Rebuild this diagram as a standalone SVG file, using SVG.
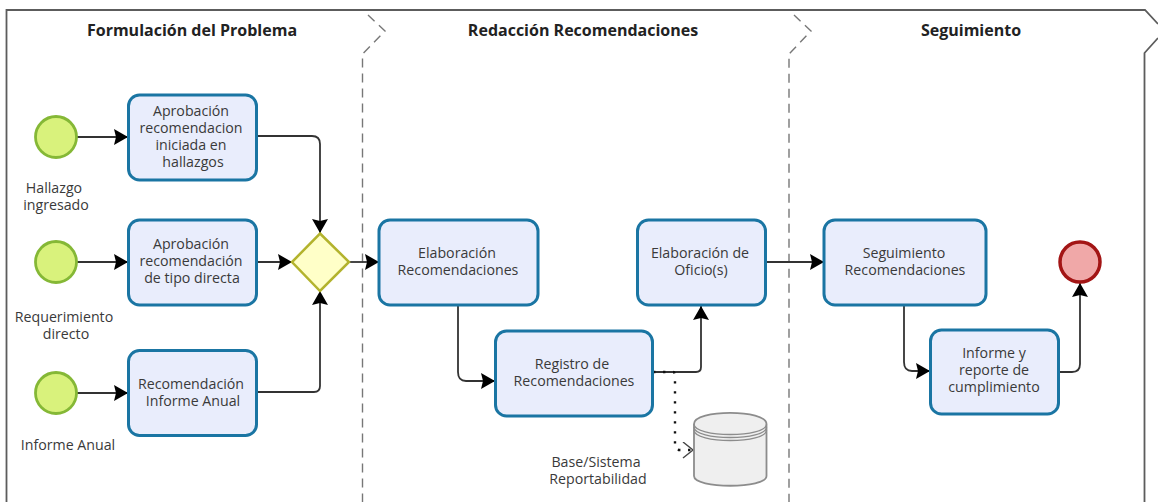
<svg xmlns="http://www.w3.org/2000/svg" width="1158" height="502" viewBox="0 0 1158 502">
<style>
text{font-family:"Open Sans","Noto Sans","Liberation Sans",sans-serif;font-size:14.200px;fill:#3a3a3a;text-anchor:middle}
.h{font-weight:700;font-size:16px;fill:#222}
.task{fill:#e9edfc;stroke:#1a75a3;stroke-width:3}
.start{fill:#d9f27c;stroke:#85b836;stroke-width:2.800}
.c{fill:none;stroke:#333;stroke-width:1.800}
.d{fill:none;stroke:#777;stroke-width:1.400;stroke-dasharray:9 6}
</style>
<defs>
<marker id="a" markerUnits="userSpaceOnUse" markerWidth="16" markerHeight="18" refX="14" refY="8" orient="auto"><path d="M0 0L14 8L0 16L2 8Z" fill="#000"/></marker>
<marker id="o" markerUnits="userSpaceOnUse" markerWidth="14" markerHeight="18" refX="11" refY="8" orient="auto"><path d="M1 0L11 8L1 16" fill="none" stroke="#444" stroke-width="1.400"/></marker>
</defs>
<g id="pool">
<path d="M6.500 502V10H1145L1158 24M1158 38L1144.500 53V502" fill="none" stroke="#5c5c5c" stroke-width="1.800"/>
<path class="d" d="M368 15L385 31L362.500 54V502"/>
<path class="d" d="M794 15L811 31L789 54V502"/>
<text class="h" x="192" y="36">Formulación del Problema</text>
<text class="h" x="583" y="36">Redacción Recomendaciones</text>
<text class="h" x="971" y="36">Seguimiento</text>
</g>
<g id="connectors">
<path class="c" marker-end="url(#a)" d="M77 137H128"/>
<path class="c" marker-end="url(#a)" d="M77 262H128"/>
<path class="c" marker-end="url(#a)" d="M77 393H128"/>
<path class="c" marker-end="url(#a)" d="M258 136H312Q320 136 320 144V233"/>
<path class="c" marker-end="url(#a)" d="M258 262H292"/>
<path class="c" marker-end="url(#a)" d="M258 392H314Q320 392 320 386V291"/>
<path class="c" marker-end="url(#a)" d="M349 262H379"/>
<path class="c" marker-end="url(#a)" d="M458 305V372Q458 381 466 381H495"/>
<path class="c" marker-end="url(#a)" d="M653 372H696Q701 372 701 367V306"/>
<path class="c" marker-end="url(#a)" d="M767 262H824"/>
<path class="c" marker-end="url(#a)" d="M904 305V362Q904 371 912 371H930"/>
<path class="c" marker-end="url(#a)" d="M1059 372H1072Q1080 372 1080 364V283"/>
<path fill="none" stroke="#111" stroke-width="2.400" stroke-dasharray="2.400 7.600" marker-end="url(#o)" d="M653 372H673Q675 372 675 376V446Q675 450 680 450H693"/>
</g>
<g id="start1"><circle class="start" cx="56" cy="137" r="20.500"/><text x="54" y="192.500">Hallazgo</text><text x="56" y="209.500">ingresado</text></g>
<g id="start2"><circle class="start" cx="56" cy="262" r="20.500"/><text x="64" y="321.500">Requerimiento</text><text x="66" y="338.500">directo</text></g>
<g id="start3"><circle class="start" cx="56" cy="393" r="20.500"/><text x="68" y="449.500">Informe Anual</text></g>
<g id="task1"><rect class="task" x="128.500" y="95" width="128" height="85" rx="11"/><text x="191" y="115.500">Aprobación</text><text x="191" y="132.500">recomendacion</text><text x="191" y="149.500">iniciada en</text><text x="193" y="166.500">hallazgos</text></g>
<g id="task2"><rect class="task" x="128.500" y="220" width="128" height="85" rx="11"/><text x="191" y="248.500">Aprobación</text><text x="191" y="265.500">recomendación</text><text x="192" y="282.500">de tipo directa</text></g>
<g id="task3"><rect class="task" x="128.500" y="350.500" width="128" height="85" rx="11"/><text x="191" y="388.500">Recomendación</text><text x="193" y="405.500">Informe Anual</text></g>
<g id="gateway"><path d="M320 233.500L349 262L320 291L292 262Z" fill="#ffffc8" stroke="#b3b32d" stroke-width="2.500"/></g>
<g id="task4"><rect class="task" x="379" y="220" width="159" height="85" rx="11"/><text x="457" y="257.500">Elaboración</text><text x="458" y="274.500">Recomendaciones</text></g>
<g id="task5"><rect class="task" x="495.500" y="331" width="157" height="85" rx="11"/><text x="572" y="368.500">Registro de</text><text x="574" y="385.500">Recomendaciones</text></g>
<g id="task6"><rect class="task" x="637.500" y="220" width="128" height="85" rx="11"/><text x="700" y="257.500">Elaboración de</text><text x="701" y="274.500">Oficio(s)</text></g>
<g id="database">
<path d="M694 424C694 409.300 766.500 409.300 766.500 424V476C766.500 489 694 489 694 476Z" fill="#efefef" stroke="#8c8c8c" stroke-width="1.800"/>
<path d="M694 424C694 438 766.500 438 766.500 424M694 427C694 441 766.500 441 766.500 427M694 430C694 444 766.500 444 766.500 430" fill="none" stroke="#8c8c8c" stroke-width="1.300"/>
<text x="596" y="466.500">Base/Sistema</text><text x="598" y="483.500">Reportabilidad</text>
</g>
<g id="task7"><rect class="task" x="824" y="220" width="162" height="85" rx="11"/><text x="904" y="257.500">Seguimiento</text><text x="905" y="274.500">Recomendaciones</text></g>
<g id="task8"><rect class="task" x="930.500" y="330" width="128" height="84" rx="11"/><text x="994" y="357.500">Informe y</text><text x="994" y="374.500">reporte de</text><text x="994" y="391.500">cumplimiento</text></g>
<g id="end"><circle cx="1080" cy="262" r="20" fill="#f0a8a8" stroke="#a31515" stroke-width="3.500"/></g>
</svg>
